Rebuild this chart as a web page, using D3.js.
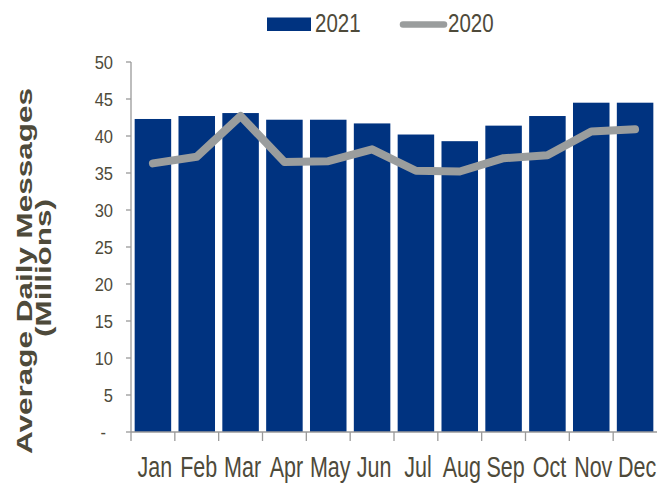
<!DOCTYPE html>
<html><head><meta charset="utf-8">
<script src="https://cdn.jsdelivr.net/npm/d3@7"></script>
<style>body{margin:0;background:#fff}svg{display:block}text{font-family:"Liberation Sans",Arial,sans-serif}</style>
</head><body><svg id="c" width="657" height="483"></svg>
<script>
const months = ["Jan","Feb","Mar","Apr","May","Jun","Jul","Aug","Sep","Oct","Nov","Dec"];
const values2021 = [42.3, 42.7, 43.1, 42.2, 42.2, 41.7, 40.2, 39.3, 41.4, 42.7, 44.5, 44.5];
const values2020 = [36.3, 37.2, 42.7, 36.5, 36.6, 38.2, 35.3, 35.2, 37.0, 37.4, 40.6, 40.9];
const yTicks = [0, 5, 10, 15, 20, 25, 30, 35, 40, 45, 50];
const yTickLabels = ["-", "5", "10", "15", "20", "25", "30", "35", "40", "45", "50"];
const seriesNames = ["2021", "2020"];

const svg = d3.select("#c");
const barColor = "#003380", lineColor = "#9a9d9d", textColor = "#4e4a3a", axisColor = "#9a9a9a";
const mLeft = 131, mRight = 657, mTop = 62, mBottom = 432;

const band = d3.scaleBand().domain(months).range([mLeft, mRight]).paddingInner(0).paddingOuter(0);
const x = d3.scaleBand().domain(months).range([mLeft, mRight]).paddingInner(0.167).paddingOuter(0.0835);
const y = d3.scaleLinear().domain([0, 50]).range([mBottom, mTop]);

// bars
svg.append("g").selectAll("rect").data(values2021).join("rect")
  .attr("x", (d,i) => x(months[i])).attr("width", x.bandwidth())
  .attr("y", d => y(d)).attr("height", d => y(0) - y(d)).attr("fill", barColor);

// line
const line = d3.line().x((d,i) => band(months[i]) + band.bandwidth()/2).y(d => y(d));
svg.append("path").datum(values2020).attr("d", line)
  .attr("fill", "none").attr("stroke", lineColor).attr("stroke-width", 8)
  .attr("stroke-linecap", "round").attr("stroke-linejoin", "round");

// y axis
const ya = svg.append("g");
ya.append("line").attr("x1", mLeft).attr("x2", mLeft).attr("y1", y(50)).attr("y2", y(0))
  .attr("stroke", axisColor).attr("stroke-width", 1.3);
ya.selectAll("line.t").data(yTicks).join("line").attr("class","t")
  .attr("x1", mLeft - 5).attr("x2", mLeft).attr("y1", d => y(d)).attr("y2", d => y(d))
  .attr("stroke", axisColor).attr("stroke-width", 1.3);
ya.selectAll("text").data(yTicks).join("text")
  .attr("transform", d => `translate(${d === 0 ? 106 : 113},${y(d) + 6.8}) scale(1,1.15)`)
  .attr("text-anchor", "end").attr("font-size", 16.5).attr("fill", textColor)
  .text((d,i) => yTickLabels[i]);

// x axis
const xa = svg.append("g");
xa.append("line").attr("x1", mLeft).attr("x2", mRight).attr("y1", y(0)).attr("y2", y(0))
  .attr("stroke", axisColor).attr("stroke-width", 1.3);
xa.selectAll("line.t").data(months).join("line").attr("class","t")
  .attr("x1", d => band(d)).attr("x2", d => band(d)).attr("y1", y(0)).attr("y2", y(0) + 9)
  .attr("stroke", axisColor).attr("stroke-width", 1.3);
xa.selectAll("text").data(months).join("text")
  .attr("transform", d => `translate(${band(d) + band.bandwidth()/2 + 2},477) scale(1,1.38)`)
  .attr("text-anchor", "middle").attr("font-size", 21.5).attr("fill", textColor).text(d => d);

// y title
const title = svg.append("g").attr("fill", textColor).attr("font-weight", "bold").attr("font-size", 22);
title.append("text").attr("transform", "translate(32,271) rotate(-90) scale(1.43,1)")
  .attr("text-anchor", "middle").text("Average Daily Messages");
title.append("text").attr("transform", "translate(51,268) rotate(-90) scale(1.43,1)")
  .attr("text-anchor", "middle").text("(Millions)");

// legend
const lg = svg.append("g");
lg.append("rect").attr("x", 267).attr("y", 17.5).attr("width", 44).attr("height", 13.5).attr("fill", barColor);
lg.append("text").attr("transform", "translate(315,32.3) scale(1,1.24)").attr("font-size", 20.5)
  .attr("fill", textColor).text(seriesNames[0]);
lg.append("line").attr("x1", 403).attr("x2", 444).attr("y1", 24.5).attr("y2", 24.5)
  .attr("stroke", lineColor).attr("stroke-width", 6.5).attr("stroke-linecap", "round");
lg.append("text").attr("transform", "translate(448,32.3) scale(1,1.24)").attr("font-size", 20.5)
  .attr("fill", textColor).text(seriesNames[1]);
</script></body></html>
